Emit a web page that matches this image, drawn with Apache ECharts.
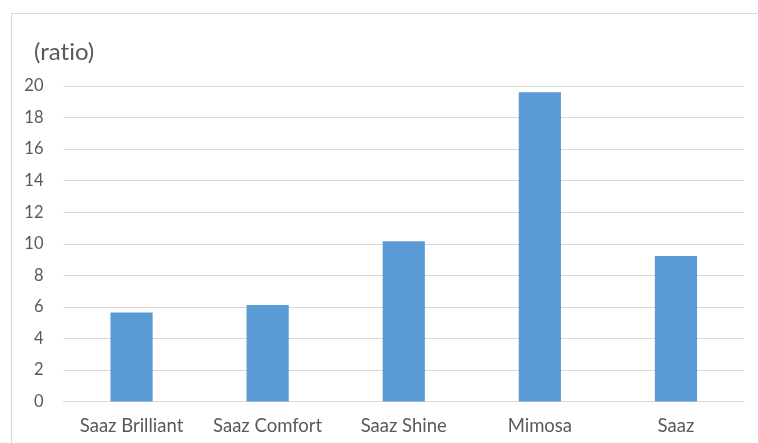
<!DOCTYPE html>
<html>
<head>
<meta charset="utf-8">
<script src="https://cdn.jsdelivr.net/npm/echarts@6/dist/echarts.min.js"></script>
<style>
  html, body { margin: 0; padding: 0; background: #fff; }
  #frame { position: absolute; left: 11px; top: 13px; width: 760px; height: 440px; border: 1px solid #D9D9D9; box-sizing: border-box; }
  #chart { position: absolute; left: 0; top: 0; width: 758px; height: 443px; }
</style>
</head>
<body>
<div id="frame"></div>
<div id="chart"></div>
<script>
const categories = ['Saaz Brilliant', 'Saaz Comfort', 'Saaz Shine', 'Mimosa', 'Saaz'];
const ratioValues = [5.64, 6.11, 10.16, 19.6, 9.23];
const yTicks = { min: 0, max: 20, interval: 2 };

const chart = echarts.init(document.getElementById('chart'), null, { renderer: 'canvas' });
chart.setOption({
  animation: false,
  backgroundColor: 'transparent',
  title: {
    // zero-width non-joiner keeps Lato from fusing "ti" into a ligature
    text: '(rat\u200Cio)',
    left: 29,
    top: 35,
    textStyle: { fontFamily: 'Lato', fontSize: 24, fontWeight: 'normal', color: '#595959' }
  },
  grid: { left: 63.5, right: 14, top: 86, bottom: 41.5, containLabel: false },
  xAxis: {
    type: 'category',
    data: categories,
    axisLine: { show: true, lineStyle: { color: '#D9D9D9', width: 1 } },
    axisTick: { show: false },
    axisLabel: { interval: 0, hideOverlap: false, fontFamily: 'Lato', fontSize: 18.5, color: '#595959', margin: 15 }
  },
  yAxis: {
    type: 'value',
    min: yTicks.min,
    max: yTicks.max,
    interval: yTicks.interval,
    axisLine: { show: false },
    axisTick: { show: false },
    splitLine: { lineStyle: { color: '#D9D9D9', width: 1 } },
    axisLabel: { fontFamily: 'Lato', fontSize: 16.5, color: '#595959', margin: 20 }
  },
  series: [{
    type: 'bar',
    data: ratioValues,
    barWidth: '31%',
    itemStyle: { color: '#5B9BD5' }
  }]
});
</script>
</body>
</html>
